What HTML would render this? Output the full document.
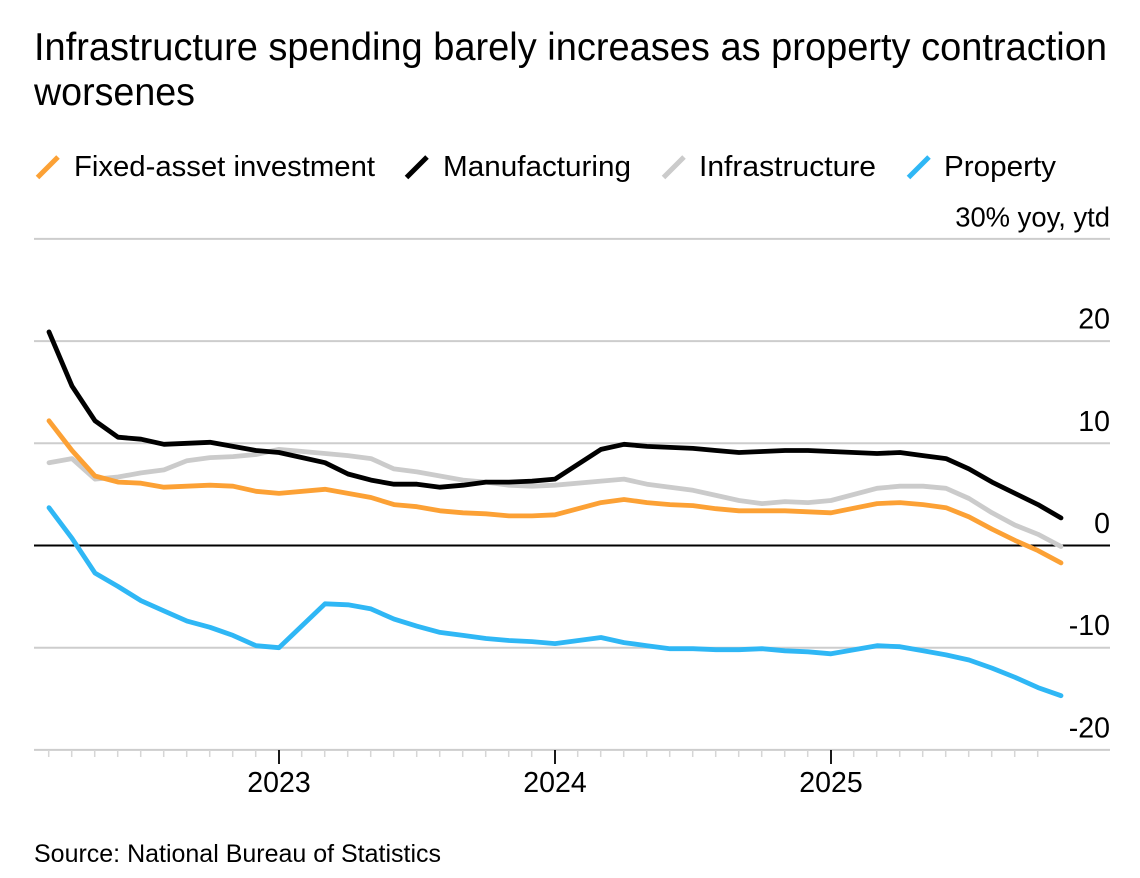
<!DOCTYPE html>
<html lang="en">
<head>
<meta charset="utf-8">
<title>Infrastructure spending barely increases as property contraction worsenes</title>
<style>
html,body{margin:0;padding:0;background:#fff;}
svg{display:block;font-family:"Liberation Sans",Arial,sans-serif;fill:#000;}
</style>
</head>
<body>
<svg id="chart" width="1140" height="878" viewBox="0 0 1140 878" xmlns="http://www.w3.org/2000/svg">
  <rect x="0" y="0" width="1140" height="878" fill="#fff"/>
  <text x="34" y="60" font-size="39" textLength="1073" lengthAdjust="spacingAndGlyphs">Infrastructure spending barely increases as property contraction</text>
  <text x="34" y="105" font-size="39" textLength="161" lengthAdjust="spacingAndGlyphs">worsenes</text>

  <g>
    <g>
      <line x1="37.5" y1="177.5" x2="58" y2="157" stroke="#fca135" stroke-width="5"/>
      <text x="74" y="176" font-size="29" textLength="301" lengthAdjust="spacingAndGlyphs">Fixed-asset investment</text>
    </g>
    <g>
      <line x1="406.5" y1="177.5" x2="427" y2="157" stroke="#000" stroke-width="5"/>
      <text x="443" y="176" font-size="29" textLength="188" lengthAdjust="spacingAndGlyphs">Manufacturing</text>
    </g>
    <g>
      <line x1="663.5" y1="177.5" x2="684" y2="157" stroke="#cbcbcb" stroke-width="5"/>
      <text x="699" y="176" font-size="29" textLength="177" lengthAdjust="spacingAndGlyphs">Infrastructure</text>
    </g>
    <g>
      <line x1="908.5" y1="177.5" x2="929" y2="157" stroke="#2fb7f5" stroke-width="5"/>
      <text x="944" y="176" font-size="29" textLength="112" lengthAdjust="spacingAndGlyphs">Property</text>
    </g>
  </g>

  <g id="grid"></g>
  <g id="yaxis"></g>
  <g id="xaxis"></g>
  <g id="series"></g>

  <text x="34" y="862" font-size="25" textLength="407" lengthAdjust="spacingAndGlyphs">Source: National Bureau of Statistics</text>
</svg>

<script>
// Reporting periods (year-to-date; no January print)
const categories = [
  "2022-02","2022-03","2022-04","2022-05","2022-06","2022-07","2022-08","2022-09","2022-10","2022-11","2022-12",
  "2023-02","2023-03","2023-04","2023-05","2023-06","2023-07","2023-08","2023-09","2023-10","2023-11","2023-12",
  "2024-02","2024-03","2024-04","2024-05","2024-06","2024-07","2024-08","2024-09","2024-10","2024-11","2024-12",
  "2025-02","2025-03","2025-04","2025-05","2025-06","2025-07","2025-08","2025-09","2025-10"
];
const fixedAssetInvestment = [
  12.2,9.3,6.8,6.2,6.1,5.7,5.8,5.9,5.8,5.3,5.1,
  5.5,5.1,4.7,4.0,3.8,3.4,3.2,3.1,2.9,2.9,3.0,
  4.2,4.5,4.2,4.0,3.9,3.6,3.4,3.4,3.4,3.3,3.2,
  4.1,4.2,4.0,3.7,2.8,1.6,0.5,-0.5,-1.7
];
const manufacturing = [
  20.9,15.6,12.2,10.6,10.4,9.9,10.0,10.1,9.7,9.3,9.1,
  8.1,7.0,6.4,6.0,6.0,5.7,5.9,6.2,6.2,6.3,6.5,
  9.4,9.9,9.7,9.6,9.5,9.3,9.1,9.2,9.3,9.3,9.2,
  9.0,9.1,8.8,8.5,7.5,6.2,5.1,4.0,2.7
];
const infrastructure = [
  8.1,8.5,6.5,6.7,7.1,7.4,8.3,8.6,8.7,8.9,9.4,
  9.0,8.8,8.5,7.5,7.2,6.8,6.4,6.2,5.9,5.8,5.9,
  6.3,6.5,6.0,5.7,5.4,4.9,4.4,4.1,4.3,4.2,4.4,
  5.6,5.8,5.8,5.6,4.6,3.2,2.0,1.1,-0.1
];
const property = [
  3.7,0.7,-2.7,-4.0,-5.4,-6.4,-7.4,-8.0,-8.8,-9.8,-10.0,
  -5.7,-5.8,-6.2,-7.2,-7.9,-8.5,-8.8,-9.1,-9.3,-9.4,-9.6,
  -9.0,-9.5,-9.8,-10.1,-10.1,-10.2,-10.2,-10.1,-10.3,-10.4,-10.6,
  -9.8,-9.9,-10.3,-10.7,-11.2,-12.0,-12.9,-13.9,-14.7
];
const yTicks = [30,20,10,0,-10,-20];
const yTickLabels = ["30% yoy, ytd","20","10","0","-10","-20"];
const xYearTicks = [2023,2024,2025];
const xYearLabels = ["2023","2024","2025"];

const NS = "http://www.w3.org/2000/svg";
const yScale = v => 545.5 - v * 10.22;
// A period is plotted at the end of its month
const monthIndex = (y, m) => y * 12 + m;
const xFromMonth = idx => 279 + (idx - monthIndex(2023, 1)) * 23;
const xScale = c => {
  const p = c.split("-");
  return xFromMonth(monthIndex(+p[0], +p[1]) + 1);
};
function mk(tag, attrs, parent) {
  const el = document.createElementNS(NS, tag);
  for (const k in attrs) el.setAttribute(k, attrs[k]);
  parent.appendChild(el);
  return el;
}

const grid = document.getElementById("grid");
const yaxis = document.getElementById("yaxis");
yTicks.forEach((t, i) => {
  const isBottom = i === yTicks.length - 1;
  const line = mk("line", {x1:34, x2:1110, y1:yScale(t), y2:yScale(t),
    stroke: t === 0 ? "#000" : "#cdcdcd", "stroke-width": t === 0 ? 2 : 2}, grid);
  
  
  const label = mk("text", {x:1110, y:yScale(t) - 12.5, "text-anchor":"end", "font-size":i === 0 ? 27.4 : 28.5}, yaxis);
  
  
  label.textContent = yTickLabels[i];
});

const xaxis = document.getElementById("xaxis");
const firstTick = monthIndex(2022, 3);
const lastTick = monthIndex(2025, 10);
for (let m = firstTick; m <= lastTick; m++) {
  if ((m - 1) % 12 === 0) continue;
  const tick = mk("line", {x1:xFromMonth(m) - 0.3, x2:xFromMonth(m) - 0.3, y1:750, y2:757, stroke:"#d6d6d6", "stroke-width":1.5}, xaxis);
  
  
}
xYearTicks.forEach((yr, i) => {
  const x = xFromMonth(monthIndex(yr, 1));
  const tick = mk("line", {x1:x, x2:x, y1:750, y2:764, stroke:"#000", "stroke-width":1.8}, xaxis);
  
  
  const label = mk("text", {x:x, y:792, "text-anchor":"middle", "font-size":28.5}, xaxis);
  
  
  label.textContent = xYearLabels[i];
});

const seriesGroup = document.getElementById("series");
function drawSeries(values, color, name) {
  const d = values.map((v, i) => (i ? "L" : "M") + xScale(categories[i]).toFixed(1) + " " + yScale(v).toFixed(1)).join(" ");
  const path = mk("path", {d:d, fill:"none", stroke:color, "stroke-width":4.8, "stroke-linejoin":"round", "stroke-linecap":"round"}, seriesGroup);
  
  
}
drawSeries(infrastructure, "#cbcbcb", "series-infrastructure");
drawSeries(fixedAssetInvestment, "#fca135", "series-fixed-asset-investment");
drawSeries(manufacturing, "#000000", "series-manufacturing");
drawSeries(property, "#2fb7f5", "series-property");
</script>
</body>
</html>
